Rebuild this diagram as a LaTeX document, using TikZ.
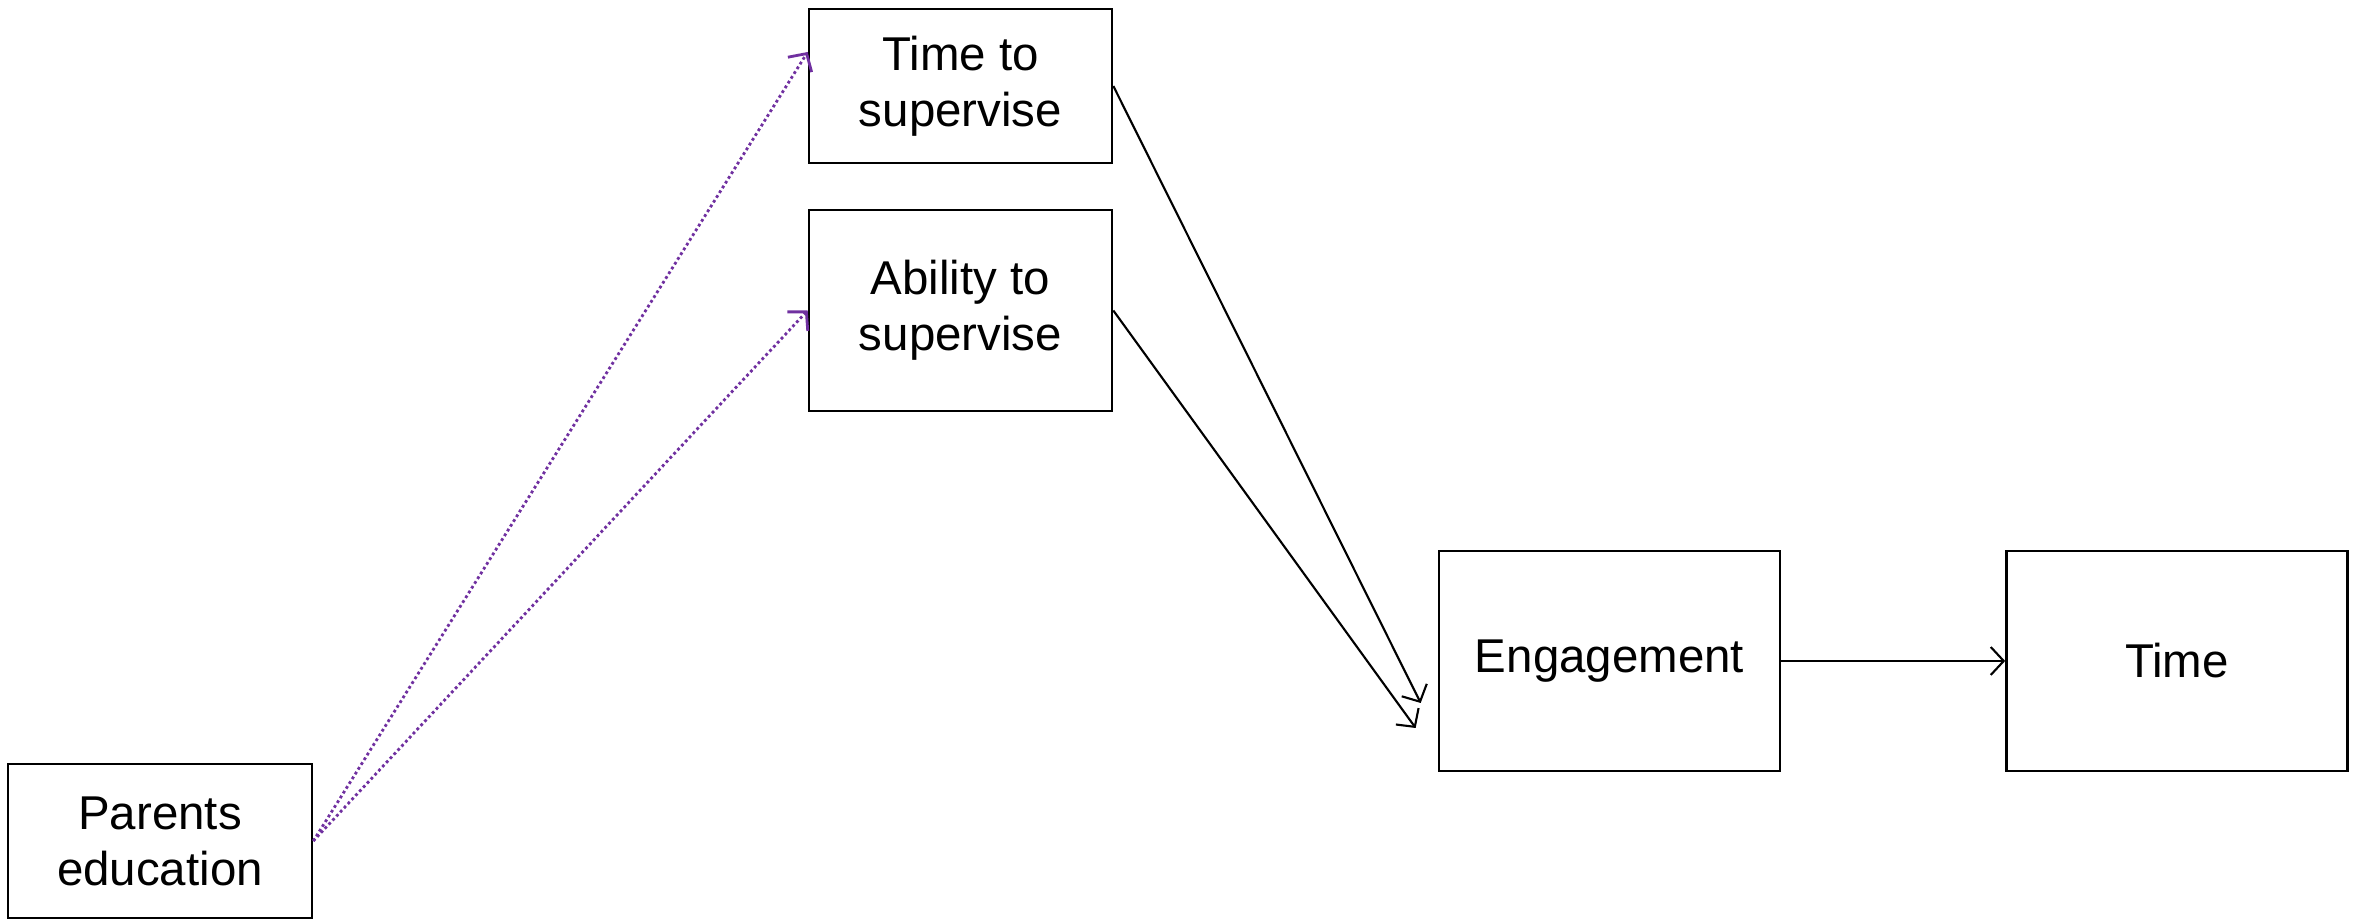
\documentclass[tikz,border=0pt]{standalone}
\usepackage{fontspec}
\setmainfont{Liberation Sans}
\usepackage[dvipsnames]{xcolor}
\usetikzlibrary{arrows.meta,calc}
\definecolor{arrowpurple}{RGB}{112,48,160}

\begin{document}
\begin{tikzpicture}[->,>={Straight Barb[length=1.3mm,width=2.8mm]},node distance=5.675cm,line width=0.6pt,main node/.style={rectangle,draw,line width=0.75pt,align=center,inner sep=0pt,font=\fontsize{13.5}{15.9}\selectfont},dotted arrow/.style={arrowpurple,line width=0.8pt,dash pattern=on 0.8pt off 0.8pt}]

            \useasboundingbox (0,0) rectangle (23.69,-9.22);

            \node[main node, minimum width=3.04cm, minimum height=1.54cm] (1) at (1.60,-8.41) {Parents\\education};
            \node[main node, minimum width=3.03cm, minimum height=1.54cm] (2) at (9.605,-0.86) {Time to\\supervise};
            \node[main node, minimum width=3.03cm, minimum height=2.01cm] (3) at (9.605,-3.105) {Ability to\\supervise};
            \node[main node, minimum width=3.41cm, minimum height=2.2cm] (4) at (16.095,-6.61) {Engagement};
            \node[main node, minimum width=3.41cm, minimum height=2.2cm] (5) [right of = 4] {Time};

            \coordinate (2in) at ($(2.west)+(0,0.34)$);
            \coordinate (4in1) at ($(4.west)+(-0.17,-0.42)$);
            \coordinate (4in2) at ($(4.west)+(-0.22,-0.67)$);

            \draw[dotted arrow] (1.east) to (2in);
            \draw[dotted arrow] (1.east) to (3.west);
            \draw (2.east) to (4in1);
            \draw (3.east) to (4in2);
            \draw (4) to (5);

        \end{tikzpicture}
\end{document}
